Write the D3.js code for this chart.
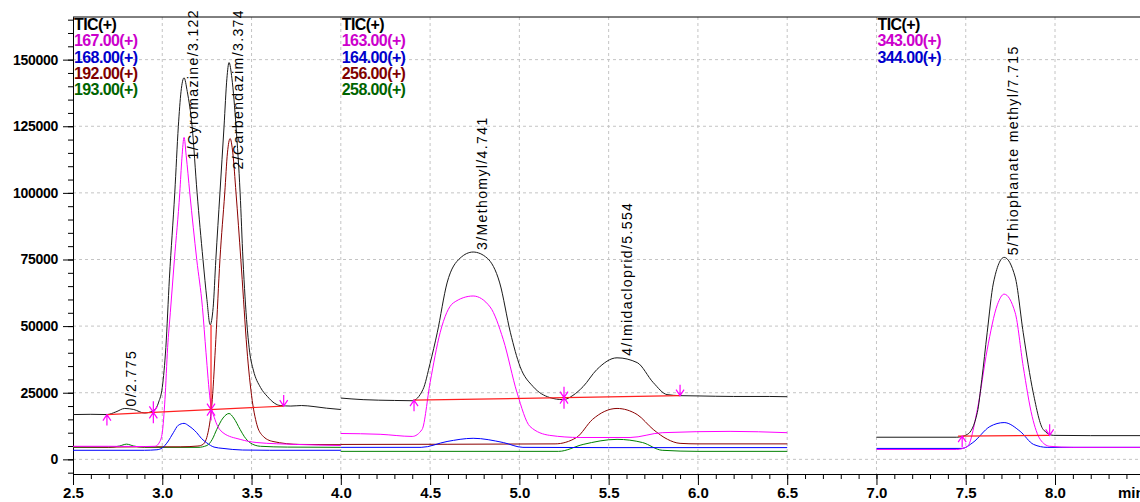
<!DOCTYPE html>
<html>
<head>
<meta charset="utf-8">
<script src="https://cdn.jsdelivr.net/npm/d3@7"></script>
<style>
  body { margin: 0; background: #fff; }
  text { font-family: "Liberation Sans", Arial, sans-serif; }
</style>
</head>
<body>
<div id="chart"></div>
<script>
// tick labels
let xTicks = [2.5, 3.0, 3.5, 4.0, 4.5, 5.0, 5.5, 6.0, 6.5, 7.0, 7.5, 8.0];
let yTicks = [0, 25000, 50000, 75000, 100000, 125000, 150000];

// legends per segment
let seg1Legend = ["TIC(+)", "167.00(+)", "168.00(+)", "192.00(+)", "193.00(+)"];
let seg2Legend = ["TIC(+)", "163.00(+)", "164.00(+)", "256.00(+)", "258.00(+)"];
let seg3Legend = ["TIC(+)", "343.00(+)", "344.00(+)"];
let segStarts = [2.5, 4.0, 7.0];

// segment 1 (2.5 - 4.0 min)
let seg1Tic = [[2.50,16800],[2.60,16900],[2.69,16800],[2.74,17800],[2.79,19100],[2.84,18700],[2.90,17400],[2.95,18200],[2.98,21500],[3.00,27000],[3.02,42000],[3.04,68000],[3.07,100000],[3.09,125000],[3.105,138000],[3.122,143200],[3.14,138000],[3.167,125000],[3.195,100000],[3.228,75000],[3.25,60000],[3.268,50500],[3.285,57000],[3.30,75000],[3.323,100000],[3.346,125000],[3.362,143000],[3.374,148900],[3.39,143000],[3.413,125000],[3.436,100000],[3.452,75000],[3.475,50000],[3.49,40000],[3.51,33500],[3.55,27000],[3.59,23500],[3.63,21000],[3.66,20200],[3.72,20000],[3.78,20200],[3.85,19800],[3.92,19200],[4.00,18700]];
let seg1Ion167 = [[2.50,4900],[2.70,4900],[2.90,4800],[2.96,4900],[2.985,6500],[3.00,10000],[3.015,22400],[3.03,42000],[3.045,55000],[3.068,75000],[3.098,100000],[3.11,113000],[3.122,120800],[3.134,114000],[3.154,100000],[3.193,75000],[3.225,57000],[3.245,40000],[3.268,22400],[3.295,15000],[3.34,10000],[3.436,7500],[3.53,6300],[3.75,5600],[4.00,5200]];
let seg1Ion168 = [[2.50,3400],[2.90,3400],[2.97,3600],[3.00,4300],[3.03,6500],[3.062,10000],[3.09,12800],[3.122,13500],[3.15,12500],[3.193,10000],[3.22,7800],[3.249,6200],[3.29,4600],[3.34,4100],[3.45,3500],[3.60,3400],[4.00,3400]];
let seg1Ion192 = [[2.50,4700],[2.70,4600],[2.90,4700],[3.10,4700],[3.20,5000],[3.228,5600],[3.256,10000],[3.28,22400],[3.30,45000],[3.323,75000],[3.35,100000],[3.365,115000],[3.38,120400],[3.395,115000],[3.413,100000],[3.44,75000],[3.455,60000],[3.47,45000],[3.50,24000],[3.53,13000],[3.56,9000],[3.62,6700],[3.77,5600],[4.00,5500]];
let seg1Ion193 = [[2.50,4500],[2.70,4500],[2.76,5000],[2.80,5700],[2.84,5000],[2.90,4500],[3.20,4500],[3.25,5200],[3.28,7500],[3.305,11200],[3.34,15500],[3.374,17200],[3.40,15500],[3.436,11200],[3.46,8500],[3.49,6300],[3.55,4900],[3.70,4600],[4.00,4500]];
let seg1Base = [[2.69,16800],[3.68,20000]];
let seg1Marks = [[2.69,"up"],[2.95,"both"],[3.273,"both"],[3.68,"down"]];
let seg1Drop = [3.273, 50500];

// segment 2 (4.0 - 6.5 min)
let seg2Tic = [[4.00,23000],[4.125,22400],[4.30,22100],[4.40,22000],[4.46,26200],[4.50,36000],[4.54,47500],[4.595,66200],[4.668,75500],[4.741,77800],[4.82,75500],[4.89,66200],[4.95,47500],[5.004,34800],[5.077,27300],[5.17,23200],[5.245,22400],[5.30,24000],[5.357,27300],[5.434,33700],[5.547,38100],[5.66,36300],[5.75,28800],[5.827,24300],[5.90,23900],[6.00,23800],[6.20,23600],[6.40,23600],[6.50,23500]];
let seg2Ion163 = [[4.00,9700],[4.22,9400],[4.40,8600],[4.455,11200],[4.50,28800],[4.556,47500],[4.63,58700],[4.741,61300],[4.836,57200],[4.91,44900],[4.987,25000],[5.06,12300],[5.17,9000],[5.34,8200],[5.62,8200],[5.80,10000],[6.18,10500],[6.50,10000]];
let seg2Ion164 = [[4.00,4500],[4.45,4500],[4.595,6700],[4.741,7900],[4.91,6300],[5.02,4500],[5.50,4400],[6.50,4400]];
let seg2Ion256 = [[4.00,5600],[5.20,5800],[5.32,8200],[5.41,15000],[5.547,19100],[5.66,16800],[5.75,11200],[5.83,7500],[5.90,6000],[6.00,5800],[6.50,5800]];
let seg2Ion258 = [[4.00,3000],[5.22,3000],[5.357,5600],[5.547,7500],[5.69,6300],[5.80,3400],[6.00,3000],[6.50,3000]];
let seg2Base = [[4.405,22200],[5.90,23900]];
let seg2Marks = [[4.41,"up"],[5.25,"both"],[5.90,"down"]];

// segment 3 (7.0 - end)
let seg3Tic = [[7.00,8300],[7.45,8300],[7.51,9400],[7.565,17600],[7.59,30000],[7.62,47500],[7.655,66200],[7.715,75800],[7.777,68400],[7.822,47500],[7.878,25000],[7.934,11200],[7.99,9000],[8.20,8900],[8.476,8900]];
let seg3Ion343 = [[7.00,3700],[7.45,3700],[7.51,4900],[7.565,18700],[7.62,41100],[7.677,58000],[7.715,62000],[7.777,55000],[7.822,34800],[7.872,16100],[7.917,7500],[7.97,4900],[8.10,4500],[8.476,4500]];
let seg3Ion344 = [[7.00,4100],[7.48,4100],[7.54,6300],[7.635,12300],[7.715,13800],[7.805,10500],[7.88,5600],[7.956,4500],[8.476,4500]];
let seg3Base = [[7.457,8700],[7.97,9000]];
let seg3Marks = [[7.48,"up"],[7.97,"down"]];

// peak labels
let peakNames = ["0/2.775", "1/Cyromazine/3.122", "2/Carbendazim/3.374", "3/Methomyl/4.741", "4/Imidacloprid/5.554", "5/Thiophanate methyl/7.715"];
let peakTimes = [2.775, 3.122, 3.374, 4.741, 5.554, 7.715];
let peakHeights = [19100, 143200, 148900, 77800, 38100, 75800];

let lineColors = ["#1a1a1a", "#ff00ff", "#0000ff", "#8b0000", "#008000"];
let legendColors = ["#000000", "#cc00cc", "#0000cc", "#800000", "#006400"];

let svgW = 1140;
let svgH = 502;
let plotL = 73, plotR = 1140, plotT = 17, plotB = 474;

let x = d3.scaleLinear().domain([2.5, 8.476]).range([plotL, plotR]);
let y = d3.scaleLinear().domain([-5500, 166000]).range([plotB, plotT]);

let svg = d3.select("#chart")
  .append("svg")
  .attr("width", svgW)
  .attr("height", svgH);

// grid
let grid = svg.append("g").attr("stroke", "#c4c4c4").attr("stroke-dasharray", "3,3");
grid.selectAll("line.v")
  .data(xTicks.slice(1))
  .enter().append("line")
  .attr("x1", d => x(d)).attr("x2", d => x(d))
  .attr("y1", plotT).attr("y2", plotB);
grid.selectAll("line.h")
  .data(yTicks)
  .enter().append("line")
  .attr("x1", plotL).attr("x2", plotR)
  .attr("y1", d => y(d)).attr("y2", d => y(d));

// axes
svg.append("g")
  .attr("transform", `translate(${plotL},0)`)
  .call(d3.axisLeft(y).tickValues(d3.range(-5000, 166000, 5000)).tickSize(5).tickSizeOuter(0).tickFormat(""));
svg.append("g")
  .attr("class", "y axis")
  .attr("transform", `translate(${plotL},0)`)
  .call(d3.axisLeft(y).tickValues(yTicks).tickSize(10).tickSizeOuter(0).tickPadding(5).tickFormat(d3.format("d")))
  .selectAll("text")
  .style("font-size", "14px").style("font-weight", "bold").style("letter-spacing", "-0.3px").attr("fill", "#000");

svg.append("g")
  .attr("transform", `translate(0,${plotB})`)
  .call(d3.axisBottom(x).tickValues(d3.range(25, 85).map(d => d / 10)).tickSize(5).tickSizeOuter(0).tickFormat(""));
svg.append("g")
  .attr("class", "x axis")
  .attr("transform", `translate(0,${plotB})`)
  .call(d3.axisBottom(x).tickValues(xTicks).tickSize(11).tickSizeOuter(0).tickPadding(2).tickFormat(d3.format(".1f")))
  .selectAll("text")
  .style("font-size", "15px").style("font-weight", "bold").attr("fill", "#000");

svg.selectAll(".domain").attr("stroke", "#000");

svg.append("line")
  .attr("x1", plotL).attr("x2", plotR).attr("y1", plotT).attr("y2", plotT)
  .attr("stroke", "#000");

svg.append("text")
  .attr("x", 1118).attr("y", 498)
  .style("font-size", "15px").style("font-weight", "bold")
  .text("min");

// traces
let plot = svg.append("g");
let line = d3.line()
  .x(d => x(d[0]))
  .y(d => y(d[1]))
  .curve(d3.curveMonotoneX);

let segments = [
  { traces: [seg1Tic, seg1Ion167, seg1Ion168, seg1Ion192, seg1Ion193], base: seg1Base, marks: seg1Marks, legend: seg1Legend },
  { traces: [seg2Tic, seg2Ion163, seg2Ion164, seg2Ion256, seg2Ion258], base: seg2Base, marks: seg2Marks, legend: seg2Legend },
  { traces: [seg3Tic, seg3Ion343, seg3Ion344], base: seg3Base, marks: seg3Marks, legend: seg3Legend }
];

segments.forEach((s, si) => {
  s.traces.slice().reverse().forEach((tr, k) => {
    let i = s.traces.length - 1 - k;
    plot.append("path")
      .attr("d", line(tr))
      .attr("fill", "none")
      .attr("stroke", lineColors[i])
      .attr("stroke-width", 1);
  });

  plot.append("path")
    .attr("d", d3.line().x(d => x(d[0])).y(d => y(d[1]))(s.base))
    .attr("stroke", "#ff2020")
    .attr("stroke-width", 1.2);

  let bv = d3.scaleLinear().domain(s.base.map(d => d[0])).range(s.base.map(d => d[1]));
  s.marks.forEach(m => {
    let cx = x(m[0]), cy = y(bv(m[0]));
    let p = "";
    if (m[1] == "up" || m[1] == "both") p += `M${cx},${cy + 11}L${cx},${cy}M${cx - 4},${cy + 6}L${cx},${cy}L${cx + 4},${cy + 6}`;
    if (m[1] == "down" || m[1] == "both") p += `M${cx},${cy - 11}L${cx},${cy}M${cx - 4},${cy - 6}L${cx},${cy}L${cx + 4},${cy - 6}`;
    plot.append("path").attr("d", p).attr("fill", "none").attr("stroke", "#ff00ff").attr("stroke-width", 1.2);
  });

  let lg = svg.append("g");
  s.legend.forEach((t, i) => {
    lg.append("text")
      .attr("x", x(segStarts[si]) + 1)
      .attr("y", 30 + i * 16.3)
      .attr("fill", legendColors[i])
      .style("font-size", "16px").style("font-weight", "bold").style("letter-spacing", "-0.6px")
      .text(t);
  });
});

// drop line at the valley between peak 1 and 2
let bv1 = d3.scaleLinear().domain(seg1Base.map(d => d[0])).range(seg1Base.map(d => d[1]));
plot.append("line")
  .attr("x1", x(seg1Drop[0])).attr("x2", x(seg1Drop[0]))
  .attr("y1", y(bv1(seg1Drop[0]))).attr("y2", y(seg1Drop[1]))
  .attr("stroke", "#ff2020").attr("stroke-width", 1.2);

// peak labels
peakNames.forEach((name, i) => {
  let px = x(peakTimes[i]) + 14;
  let t = svg.append("text")
    .style("font-size", "14px").style("letter-spacing", "1.4px")
    .attr("fill", "#000")
    .text(name);
  let len = t.node().getComputedTextLength();
  let py = Math.max(y(peakHeights[i]) - 2, 9 + len);
  t.attr("transform", `translate(${px},${py}) rotate(-90)`);
});
</script>
</body>
</html>
